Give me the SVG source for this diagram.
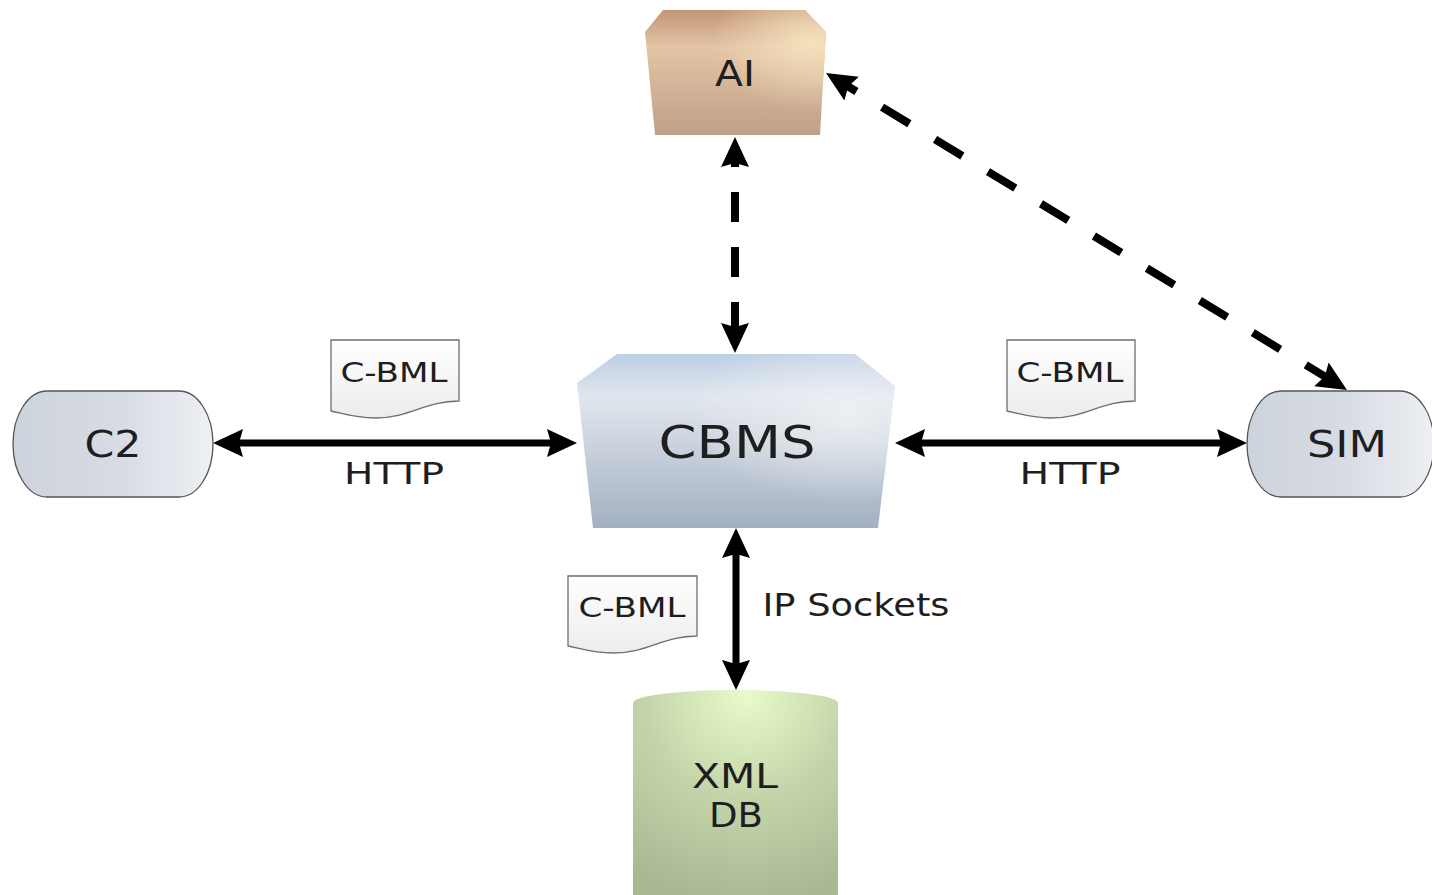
<svg xmlns="http://www.w3.org/2000/svg" width="1432" height="895" viewBox="0 0 1432 895">
<defs>
<style>
.lbl{font-family:"DejaVu Sans","Liberation Sans",sans-serif;fill:#1e1e1e;text-anchor:middle}
.conn{fill:none;stroke:#000}
.solid{stroke-width:7}
.dash{stroke-width:8}
.doc{stroke:#6e6e6e;stroke-width:1.3;fill:url(#gDoc)}
.pill{stroke:#555;stroke-width:1.3;fill:url(#gPill)}
</style>
<linearGradient id="gAI" x1="0" y1="0" x2="0" y2="1">
<stop offset="0" stop-color="#c39676"/>
<stop offset="0.3" stop-color="#e2c4a6"/>
<stop offset="1" stop-color="#c0a088"/>
</linearGradient>
<radialGradient id="gAIhi" cx="0.92" cy="0.25" r="0.55">
<stop offset="0" stop-color="#f7e4bf" stop-opacity="0.9"/>
<stop offset="1" stop-color="#f7e4bf" stop-opacity="0"/>
</radialGradient>
<linearGradient id="gCB" x1="0" y1="0" x2="0" y2="1">
<stop offset="0" stop-color="#bccfe5"/>
<stop offset="0.25" stop-color="#e1e6ed"/>
<stop offset="1" stop-color="#a2b0c2"/>
</linearGradient>
<radialGradient id="gCBhi" cx="0.85" cy="0.35" r="0.5">
<stop offset="0" stop-color="#f0f2f5" stop-opacity="0.8"/>
<stop offset="1" stop-color="#f0f2f5" stop-opacity="0"/>
</radialGradient>
<linearGradient id="gPill" x1="0" y1="0" x2="1" y2="0">
<stop offset="0" stop-color="#cdd3dc"/>
<stop offset="0.55" stop-color="#d8dce4"/>
<stop offset="1" stop-color="#eef0f3"/>
</linearGradient>
<linearGradient id="gDoc" x1="0" y1="0" x2="0" y2="1">
<stop offset="0" stop-color="#ffffff"/>
<stop offset="1" stop-color="#ececec"/>
</linearGradient>
<radialGradient id="gDB" cx="0.55" cy="0.02" r="1" fx="0.55" fy="0.02">
<stop offset="0" stop-color="#e8fbc9"/>
<stop offset="0.5" stop-color="#c4d4aa"/>
<stop offset="1" stop-color="#a9b894"/>
</radialGradient>
<marker id="ah" viewBox="0 0 30 28" markerWidth="30" markerHeight="28" markerUnits="userSpaceOnUse" refX="10" refY="14" orient="auto-start-reverse">
<path d="M0,0 L30,14 L0,28 L4,14 Z" fill="#000"/>
</marker>
</defs>
<rect width="1432" height="895" fill="#fff"/>

<g id="connectors">
<line class="conn dash" x1="735" y1="157" x2="735" y2="333" stroke-dasharray="30 25" stroke-dashoffset="20" marker-start="url(#ah)" marker-end="url(#ah)"/>
<line class="conn dash" x1="843.1" y1="83.4" x2="1329.9" y2="379.6" stroke-dasharray="32 30" stroke-dashoffset="16.4" marker-start="url(#ah)" marker-end="url(#ah)"/>
<line class="conn solid" x1="233" y1="443" x2="557" y2="443" marker-start="url(#ah)" marker-end="url(#ah)"/>
<line class="conn solid" x1="915" y1="443" x2="1227" y2="443" marker-start="url(#ah)" marker-end="url(#ah)"/>
<line class="conn solid" x1="736" y1="548" x2="736" y2="670" marker-start="url(#ah)" marker-end="url(#ah)"/>
<text class="lbl" x="394" y="484" font-size="30" textLength="100" lengthAdjust="spacingAndGlyphs">HTTP</text>
<text class="lbl" x="1070" y="484" font-size="30" textLength="101" lengthAdjust="spacingAndGlyphs">HTTP</text>
<text class="lbl" x="856" y="616" font-size="32" textLength="187" lengthAdjust="spacingAndGlyphs">IP Sockets</text>
</g>

<g id="doc1">
<path class="doc" d="M331,340 H459 V401 C425,401 410,418 375,418 C355,418 345,414 331,411 Z"/>
<text class="lbl" x="394" y="382" font-size="26" textLength="107" lengthAdjust="spacingAndGlyphs">C-BML</text>
</g>
<g id="doc2">
<path class="doc" d="M1007,340 H1135 V401 C1101,401 1086,418 1051,418 C1031,418 1021,414 1007,411 Z"/>
<text class="lbl" x="1070" y="382" font-size="26" textLength="107" lengthAdjust="spacingAndGlyphs">C-BML</text>
</g>
<g id="doc3">
<path class="doc" d="M568,576 H697 V636 C663,636 648,653 613,653 C593,653 583,649 568,646 Z"/>
<text class="lbl" x="632" y="617" font-size="26" textLength="107" lengthAdjust="spacingAndGlyphs">C-BML</text>
</g>

<g id="AI">
<path d="M663,10 H805 L826,32 L820,135 H655 L645,32 Z" fill="url(#gAI)"/>
<path d="M663,10 H805 L826,32 L820,135 H655 L645,32 Z" fill="url(#gAIhi)"/>
<text class="lbl" x="735" y="86" font-size="36" textLength="40" lengthAdjust="spacingAndGlyphs">AI</text>
</g>

<g id="CBMS">
<path d="M617,354 H855 L895,386 L878,528 H593 L577,383 Z" fill="url(#gCB)"/>
<path d="M617,354 H855 L895,386 L878,528 H593 L577,383 Z" fill="url(#gCBhi)"/>
<text class="lbl" x="737" y="458" font-size="45" textLength="157" lengthAdjust="spacingAndGlyphs">CBMS</text>
</g>

<g id="C2">
<path class="pill" d="M47,391 H179 A34,53 0 0 1 179,497 H47 A34,53 0 0 1 47,391 Z"/>
<text class="lbl" x="113" y="457" font-size="38" textLength="57" lengthAdjust="spacingAndGlyphs">C2</text>
</g>

<g id="SIM">
<path class="pill" d="M1281,391 H1400 A34,53 0 0 1 1400,497 H1281 A34,53 0 0 1 1281,391 Z"/>
<text class="lbl" x="1347" y="457" font-size="38" textLength="80" lengthAdjust="spacingAndGlyphs">SIM</text>
</g>

<g id="XMLDB">
<path d="M633,703 A102.5,13 0 0 1 838,703 V900 H633 Z" fill="url(#gDB)"/>
<text class="lbl" x="735" y="788" font-size="34" textLength="86" lengthAdjust="spacingAndGlyphs">XML</text>
<text class="lbl" x="736" y="827" font-size="34" textLength="54" lengthAdjust="spacingAndGlyphs">DB</text>
</g>
</svg>
